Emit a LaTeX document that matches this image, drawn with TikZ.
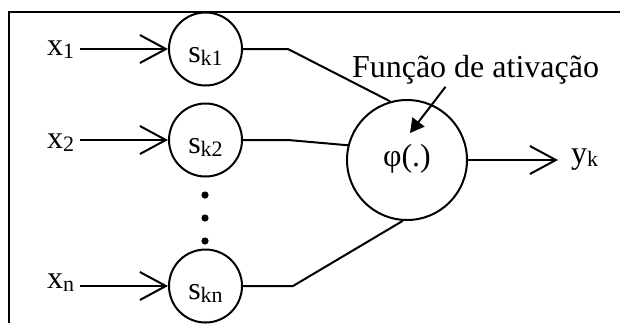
\documentclass[tikz,border=0pt]{standalone}
\usepackage{fontspec}
\setmainfont{Liberation Serif}
\usetikzlibrary{arrows.meta}
\newcommand\lsub[1]{\raisebox{-1.5pt}{\fontsize{11}{13}\selectfont #1}}
\begin{document}
\begin{tikzpicture}[x=0.5pt,y=-0.5pt, line width=1pt,
  txt/.style={inner sep=0pt, font=\fontsize{16}{19}\selectfont},
  snode/.style={circle, draw, line width=1pt, minimum size=36.5pt, inner sep=0pt,
    font=\fontsize{16}{19}\selectfont, text height=13.5pt, text depth=0.5pt},
  phinode/.style={circle, draw, line width=1pt, minimum size=60pt, inner sep=0pt,
    font=\fontsize{16}{19}\selectfont, text height=9pt, text depth=3pt},
  dotnode/.style={circle, fill, inner sep=0pt, minimum size=3.6pt},
  arr/.style={-{Straight Barb[length=13pt,width=14pt]}},
  tri/.style={-{Triangle[length=7pt,width=7.5pt]}}
]
\useasboundingbox (0,0) rectangle (620,323);
% frame
\draw (9,323) -- (9,12) -- (620,12);

% input labels
\node[txt, anchor=base west] (x1) at (46,55) {x\lsub{1}};
\node[txt, anchor=base west] (x2) at (46,148) {x\lsub{2}};
\node[txt, anchor=base west] (xn) at (46,288) {x\lsub{n}};

% weight circles
\node[snode] (s1) at (205.5,49) {s\lsub{k1}};
\node[snode] (s2) at (205.5,140) {s\lsub{k2}};
\node[snode] (sn) at (205.5,286) {s\lsub{kn}};

% dots
\node[dotnode] (d1) at (205,195) {};
\node[dotnode] (d2) at (205,218) {};
\node[dotnode] (d3) at (205,241) {};

% activation node
\node[phinode] (phi) at (407,160) {φ(.)};

% output label
\node[txt, anchor=base west] (yk) at (570,163) {y\lsub{k}};

% function label
\node[txt, anchor=base] (fn) at (475.5,77) {Função de ativação};

% kinks
\coordinate (k1) at (288,49);
\coordinate (k2) at (288,140);
\coordinate (kn) at (293,286);
\coordinate (tip) at (410,133);

% input arrows
\draw[arr, shorten <=2.5pt] (x1.east |- s1.west) -- (s1.west);
\draw[arr, shorten <=2.5pt] (x2.east |- s2.west) -- (s2.west);
\draw[arr, shorten <=2.5pt] (xn.east |- sn.west) -- (sn.west);

% to activation
\draw (s1.east) -- (k1) -- (phi.106);
\draw (s2.east) -- (k2) -- (phi.166);
\draw (sn.east) -- (kn) -- (phi.266);

% output
\draw[arr, shorten >=6pt] (phi.east) -- (phi.east -| yk.west);

% annotation arrow
\draw[tri] ([xshift=-15pt,yshift=-1pt]fn.south) -- (tip);
\end{tikzpicture}
\end{document}
